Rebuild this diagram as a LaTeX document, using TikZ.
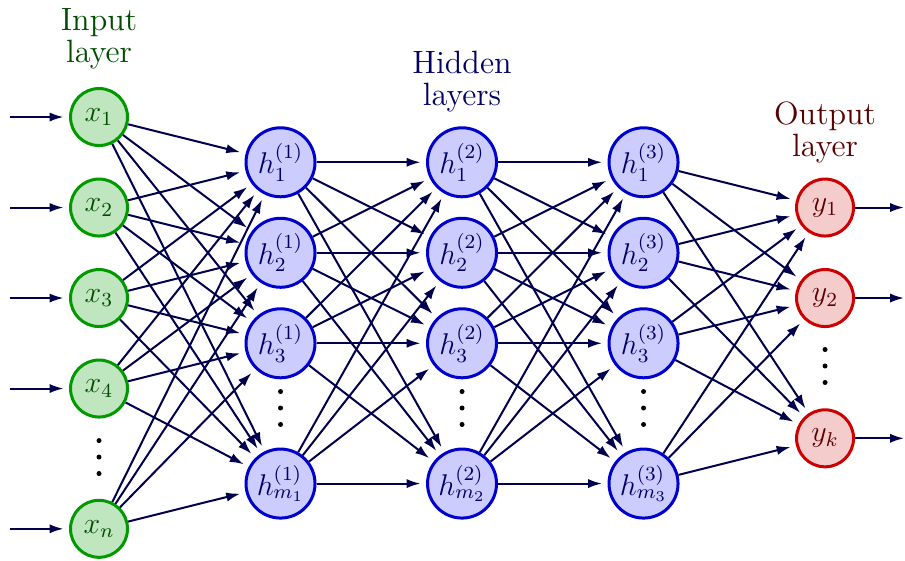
\documentclass[tikz,border=0pt]{standalone}
\usepackage{amsmath}
\usepackage{tikz}
\usetikzlibrary{arrows.meta, positioning}

\tikzset{
  innode/.style={circle, draw=green!60!black, fill=green!60!black!25, line width=1.2pt,
    minimum size=22.8pt, inner sep=0pt, text=green!30!black, font=\large},
  hidnode/.style={circle, draw=blue!80!black, fill=blue!20, line width=1.2pt,
    minimum size=27.6pt, inner sep=0pt, text=blue!40!black, font=\large},
  outnode/.style={circle, draw=red!80!black, fill=red!80!black!20, line width=1.2pt,
    minimum size=22.8pt, inner sep=0pt, text=red!35!black, font=\large},
  conn/.style={-{Latex[length=5.6pt,width=3.7pt]}, line width=0.8pt, blue!30!black, shorten >=2.2pt},
  lbl/.style={align=center, font=\fontsize{12.9pt}{12.8pt}\selectfont},
  dot/.style={circle, fill=black, inner sep=0pt, minimum size=2pt}
}

\begin{document}
\begin{tikzpicture}[x=36.3pt, y=36.2pt]
        \useasboundingbox (-1.091,1.293) rectangle (8.881,-4.895);

        % input layer
        \node[innode] (x1) at (0,0) {$x_1$};
        \node[innode] (x2) at (0,-1) {$x_2$};
        \node[innode] (x3) at (0,-2) {$x_3$};
        \node[innode] (x4) at (0,-3) {$x_4$};
        \node[innode] (xn) at (0,-4.55) {$x_n$};

        % hidden layers
        \node[hidnode] (ha1) at (2,-0.5) {$h^{(1)}_1$};
        \node[hidnode] (ha2) at (2,-1.5) {$h^{(1)}_2$};
        \node[hidnode] (ha3) at (2,-2.5) {$h^{(1)}_3$};
        \node[hidnode] (ham) at (2,-4.05) {$h^{(1)}_{m_1}$};

        \node[hidnode] (hb1) at (4,-0.5) {$h^{(2)}_1$};
        \node[hidnode] (hb2) at (4,-1.5) {$h^{(2)}_2$};
        \node[hidnode] (hb3) at (4,-2.5) {$h^{(2)}_3$};
        \node[hidnode] (hbm) at (4,-4.05) {$h^{(2)}_{m_2}$};

        \node[hidnode] (hc1) at (6,-0.5) {$h^{(3)}_1$};
        \node[hidnode] (hc2) at (6,-1.5) {$h^{(3)}_2$};
        \node[hidnode] (hc3) at (6,-2.5) {$h^{(3)}_3$};
        \node[hidnode] (hcm) at (6,-4.05) {$h^{(3)}_{m_3}$};

        % output layer
        \node[outnode] (y1) at (8,-1) {$y_1$};
        \node[outnode] (y2) at (8,-2) {$y_2$};
        \node[outnode] (yk) at (8,-3.55) {$y_k$};

        % vertical dots
        \foreach \c/\y in {0/-3.757, 2/-3.215, 4/-3.215, 6/-3.215, 8/-2.751}
            \foreach \k in {-1,0,1}
                \node[dot] at (\c,\y+0.182*\k) {};

        % layer titles
        \node[lbl, text=green!30!black] (tin) at (0,0.867) {Input\\layer};
        \node[lbl, text=blue!40!black] (thid) at (4,0.387) {Hidden\\layers};
        \node[lbl, text=red!35!black] (tout) at (8,-0.166) {Output\\layer};

        % free ends of the outside arrows
        \foreach \i/\y in {1/0, 2/-1, 3/-2, 4/-3, n/-4.55}
            \coordinate (s\i) at (-0.98,\y);
        \foreach \i/\y in {1/-1, 2/-2, k/-3.55}
            \coordinate (e\i) at (8.87,\y);

        \foreach \i in {1,2,3,4,n}
            \draw[conn] (s\i) -- (x\i);
        \foreach \i in {1,2,k}
            \draw[conn, shorten >=0pt] (y\i) -- (e\i);

        % connections
        \foreach \i in {1,2,3,4,n}
            \foreach \j in {1,2,3,m}
                \draw[conn] (x\i) -- (ha\j);
        \foreach \i in {1,2,3,m}
            \foreach \j in {1,2,3,m}
                \draw[conn] (ha\i) -- (hb\j);
        \foreach \i in {1,2,3,m}
            \foreach \j in {1,2,3,m}
                \draw[conn] (hb\i) -- (hc\j);
        \foreach \i in {1,2,3,m}
            \foreach \j in {1,2,k}
                \draw[conn] (hc\i) -- (y\j);
    \end{tikzpicture}
\end{document}
